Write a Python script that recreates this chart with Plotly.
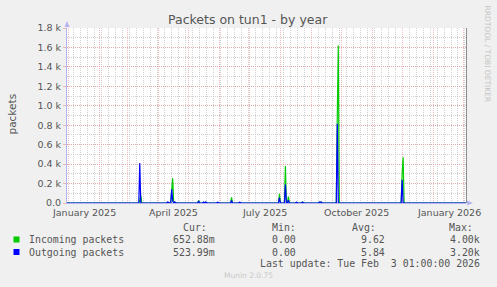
import plotly.graph_objects as go
import pandas as pd

# ---- data ----
start = "2024-12-30 01:00"
end = "2026-02-03 01:00"
spike_dates = ["2025-03-13", "2025-03-14", "2025-04-10", "2025-04-14", "2025-04-15",
               "2025-04-17", "2025-05-11", "2025-05-16", "2025-05-18", "2025-05-30",
               "2025-06-13", "2025-06-21", "2025-07-31", "2025-08-06", "2025-08-09",
               "2025-08-17", "2025-08-23", "2025-09-09", "2025-09-10", "2025-09-11",
               "2025-09-27", "2025-09-28", "2025-12-01", "2025-12-02"]
incoming = [30, 80, 8, 120, 255,
            10, 25, 8, 8, 5,
            58, 5, 95, 380, 65,
            5, 10, 8, 8, 8,
            900, 1620, 300, 470]
outgoing = [410, 0, 10, 140, 20,
            10, 20, 10, 10, 8,
            25, 8, 55, 190, 30,
            8, 8, 10, 12, 10,
            815, 0, 240, 0]
ytick_vals = [0, 200, 400, 600, 800, 1000, 1200, 1400, 1600, 1800]
ytick_text = ["0.0", "0.2 k", "0.4 k", "0.6 k", "0.8 k", "1.0 k", "1.2 k", "1.4 k", "1.6 k", "1.8 k"]
month_labels = ["January 2025", "April 2025", "July 2025", "October 2025", "January 2026"]
month_label_pos = ["2025-01-16 12:00", "2025-04-16", "2025-07-16 12:00", "2025-10-16 12:00", "2026-01-16 12:00"]
legend_names = ["Incoming packets", "Outgoing packets"]
legend_colors = ["#00cc00", "#0000ff"]
cur_vals = ["652.88m", "523.99m"]
min_vals = ["0.00", "0.00"]
avg_vals = ["9.62", "5.84"]
max_vals = ["4.00k", "3.20k"]

days = pd.date_range("2024-12-30", "2026-02-03", freq="D")
s_in = pd.Series(0.0, index=days)
s_out = pd.Series(0.0, index=days)
for d, a, b in zip(spike_dates, incoming, outgoing):
    s_in[pd.Timestamp(d)] = a
    s_out[pd.Timestamp(d)] = b

W, H = 497, 287
L, R, T, B = 67, 466, 28, 203


def px(x):
    return (x - L) / (R - L)


def py(y):
    return (B - y) / (B - T)


FONT = "DejaVu Sans"
MONO = "DejaVu Sans Mono"
TXT = "#555555"
RED = "rgba(235,150,150,0.65)"
GRAY = "rgba(200,200,200,0.85)"
AXIS = "#b4b4f0"
DASH = "1px,1px"

fig = go.Figure()
fig.add_trace(go.Scatter(x=s_in.index, y=s_in.values, mode="lines",
                         line=dict(color=legend_colors[0], width=1.2), hoverinfo="skip"))
fig.add_trace(go.Scatter(x=s_out.index, y=s_out.values, mode="lines",
                         line=dict(color=legend_colors[1], width=1.2), hoverinfo="skip"))

ann = []
# title
ann.append(dict(text="Packets on tun1 - by year", x=px(248), y=py(19), xref="paper", yref="paper",
                showarrow=False, xanchor="center", yanchor="middle",
                font=dict(family=FONT, size=12.5, color=TXT)))
# y axis title
ann.append(dict(text="packets", x=px(11.5), y=py(114), xref="paper", yref="paper", textangle=-90,
                showarrow=False, xanchor="center", yanchor="middle",
                font=dict(family=FONT, size=10.5, color=TXT)))
# watermark
ann.append(dict(text="RRDTOOL / TOBI OETIKER", x=px(487), y=py(53.5), xref="paper", yref="paper",
                textangle=90, showarrow=False, xanchor="center", yanchor="middle",
                font=dict(family=FONT, size=7.5, color="#c4c4c4")))
ann.append(dict(text="Munin 2.0.75", x=px(248), y=py(275), xref="paper", yref="paper",
                showarrow=False, xanchor="center", yanchor="middle",
                font=dict(family=FONT, size=7.5, color="#c8c8c8")))
# month labels
for lab, pos in zip(month_labels, month_label_pos):
    ann.append(dict(text=lab, x=pos, y=py(212), xref="x", yref="paper", showarrow=False,
                    xanchor="center", yanchor="middle", font=dict(family=FONT, size=9.5, color=TXT)))
# legend headers
for lab, xl in zip(["Cur:", "Min:", "Avg:", "Max:"], [181, 270, 350, 447]):
    ann.append(dict(text=lab, x=px(xl), y=py(227), xref="paper", yref="paper", showarrow=False,
                    xanchor="left", yanchor="middle", font=dict(family=MONO, size=9.9, color=TXT)))
rows_y = [239.5, 252]
for i in range(2):
    ann.append(dict(text=legend_names[i], x=px(26.5), y=py(rows_y[i]), xref="paper", yref="paper",
                    showarrow=False, xanchor="left", yanchor="middle",
                    font=dict(family=MONO, size=9.9, color=TXT)))
    for val, xr in zip([cur_vals[i], min_vals[i], avg_vals[i], max_vals[i]], [216.7, 298, 386.7, 481.7]):
        ann.append(dict(text=val, x=px(xr), y=py(rows_y[i]), xref="paper", yref="paper",
                        showarrow=False, xanchor="right", yanchor="middle",
                        font=dict(family=MONO, size=9.9, color=TXT)))
ann.append(dict(text="Last update: Tue Feb\u00a0\u00a03 01:00:00 2026", x=px(481.7), y=py(263),
                xref="paper", yref="paper", showarrow=False, xanchor="right", yanchor="middle",
                font=dict(family=MONO, size=9.9, color=TXT)))

shapes = []
for i in range(2):
    y0 = rows_y[i]
    shapes.append(dict(type="rect", xref="paper", yref="paper", x0=px(13.5), x1=px(19.5),
                       y0=py(y0 + 3), y1=py(y0 - 3), fillcolor=legend_colors[i], line=dict(width=0)))
# right frame line
shapes.append(dict(type="line", xref="paper", yref="paper", x0=px(466.5), x1=px(466.5),
                   y0=py(203), y1=py(28), line=dict(color="#8c8c8c", width=1)))
# arrows
shapes.append(dict(type="path", xref="paper", yref="paper",
                   path=f"M {px(64.5)},{py(27)} L {px(69.5)},{py(27)} L {px(67)},{py(21)} Z",
                   fillcolor=AXIS, line=dict(width=0)))
shapes.append(dict(type="path", xref="paper", yref="paper",
                   path=f"M {px(467)},{py(200.5)} L {px(467)},{py(205.5)} L {px(473)},{py(203)} Z",
                   fillcolor=AXIS, line=dict(width=0)))

fig.update_layout(
    width=W, height=H,
    margin=dict(l=L, r=W - R, t=T, b=H - B),
    paper_bgcolor="#f0f0f0", plot_bgcolor="#ffffff",
    showlegend=False,
    annotations=ann, shapes=shapes,
    xaxis=dict(type="date", range=[start, end], showticklabels=False,
               tick0="2025-01-01", dtick="M1", showgrid=True, gridcolor=RED, griddash=DASH,
               gridwidth=1, ticks="", zeroline=False, showline=True, linecolor=AXIS, linewidth=1,
               minor=dict(tick0="2024-12-30", dtick=7 * 86400000, showgrid=True,
                          gridcolor=GRAY, griddash=DASH, gridwidth=1)),
    yaxis=dict(range=[0, 1800], tickvals=ytick_vals, ticktext=ytick_text,
               showgrid=True, gridcolor=RED, griddash=DASH, gridwidth=1,
               ticks="outside", ticklen=3, tickcolor=RED, zeroline=False,
               showline=True, linecolor=AXIS, linewidth=1,
               tickfont=dict(family=FONT, size=9.5, color=TXT),
               minor=dict(dtick=100, showgrid=True, gridcolor=GRAY, griddash=DASH, gridwidth=1)),
)

fig.write_html("out.html")
